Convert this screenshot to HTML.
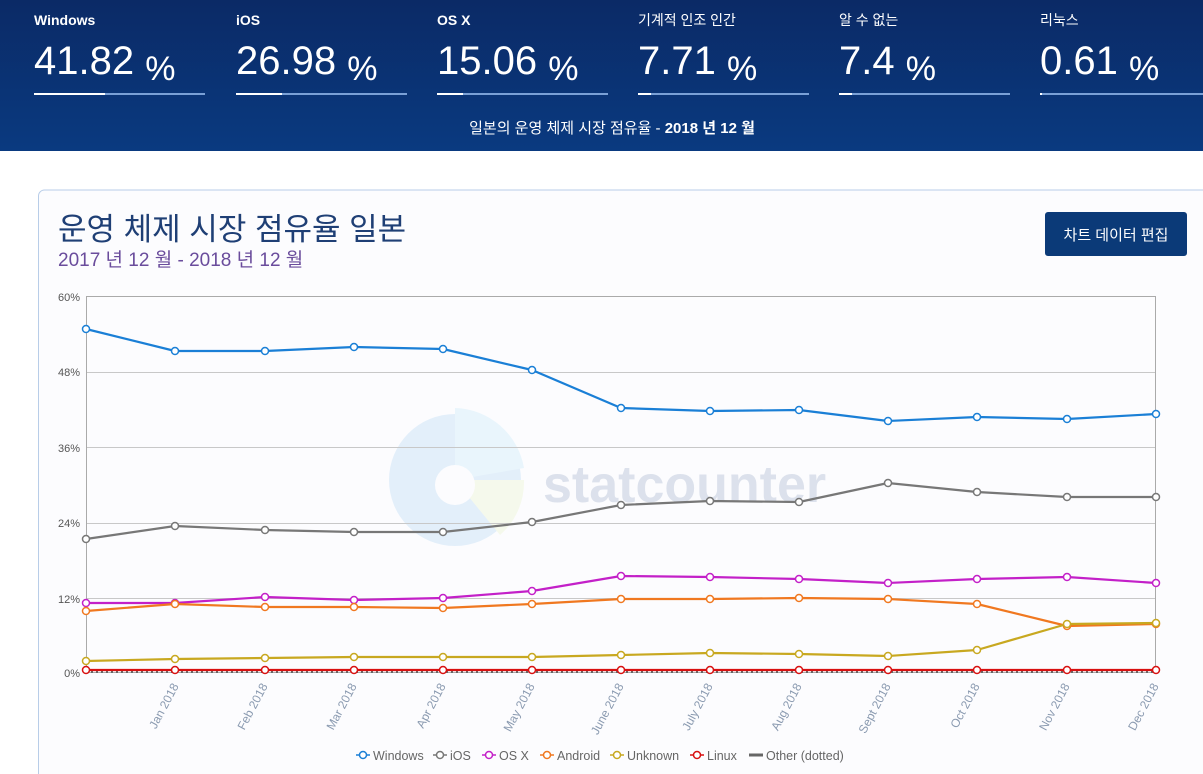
<!DOCTYPE html>
<html><head><meta charset="utf-8"><style>
body{margin:0;width:1203px;height:774px;overflow:hidden;background:#fff;font-family:"Liberation Sans","Noto Sans CJK KR",sans-serif;}
svg{display:block}
</style></head><body>
<svg width="1203" height="774" xmlns="http://www.w3.org/2000/svg" font-family="Liberation Sans, Noto Sans CJK KR, sans-serif">
<defs><linearGradient id="hg" x1="0" y1="0" x2="0" y2="1"><stop offset="0" stop-color="#0b2a66"/><stop offset="1" stop-color="#0a3a80"/></linearGradient></defs>
<rect width="1203" height="151" fill="url(#hg)"/>
<g fill="#fff">
<g font-size="14" font-weight="bold"><text x="34" y="25">Windows</text><text x="236" y="25">iOS</text><text x="437" y="25">OS X</text></g>
<g font-size="14"><text x="638" y="25">기계적 인조 인간</text><text x="839" y="25">알 수 없는</text><text x="1040" y="25">리눅스</text></g>
<g font-size="40"><text x="34" y="74">41.82 <tspan font-size="34" dy="6">%</tspan></text><text x="236" y="74">26.98 <tspan font-size="34" dy="6">%</tspan></text><text x="437" y="74">15.06 <tspan font-size="34" dy="6">%</tspan></text><text x="638" y="74">7.71 <tspan font-size="34" dy="6">%</tspan></text><text x="839" y="74">7.4 <tspan font-size="34" dy="6">%</tspan></text><text x="1040" y="74">0.61 <tspan font-size="34" dy="6">%</tspan></text></g>
</g>
<g fill="#7aa0d6"><rect x="34" y="93" width="171" height="2"/><rect x="236" y="93" width="171" height="2"/><rect x="437" y="93" width="171" height="2"/><rect x="638" y="93" width="171" height="2"/><rect x="839" y="93" width="171" height="2"/><rect x="1040" y="93" width="171" height="2"/></g>
<g fill="#fff"><rect x="34" y="93" width="71" height="2"/><rect x="236" y="93" width="46" height="2"/><rect x="437" y="93" width="26" height="2"/><rect x="638" y="93" width="13" height="2"/><rect x="839" y="93" width="13" height="2"/><rect x="1040" y="93" width="2" height="2"/></g>
<text x="612" y="133" fill="#fff" font-size="15" text-anchor="middle">일본의 운영 체제 시장 점유율 - <tspan font-weight="bold">2018 년 12 월</tspan></text>

<path d="M38.5 774 V196 a6 6 0 0 1 6 -6 H1203 V774 Z" fill="#fcfcfe" stroke="none"/>
<path d="M38.5 774 V196 a6 6 0 0 1 6 -6 H1203" fill="none" stroke="#b8cde8"/>
<text x="58" y="240" fill="#1f3f75" font-size="31">운영 체제 시장 점유율 일본</text>
<text x="58" y="266" fill="#6a4c9c" font-size="19">2017 년 12 월 - 2018 년 12 월</text>
<rect x="1045" y="212" width="142" height="44" rx="3" fill="#0b3a78"/>
<text x="1116" y="240" fill="#fff" font-size="15" text-anchor="middle">차트 데이터 편집</text>

<g opacity="0.22"><circle cx="455" cy="480" r="66" fill="#8ec4f0"/><path d="M455 480 L455 408 A72 72 0 0 1 524 468 Z" fill="#a8e0f8"/><path d="M455 480 L524 480 A70 70 0 0 1 500 535 Z" fill="#e0f0b0"/><circle cx="455" cy="485" r="20" fill="#fff"/></g>
<text x="543" y="502" fill="#d2d9e6" font-size="52" font-weight="bold" opacity="0.75">statcounter</text>

<g stroke="#c8c8c8" stroke-width="1"><line x1="86" y1="372.5" x2="1156" y2="372.5"/><line x1="86" y1="447.5" x2="1156" y2="447.5"/><line x1="86" y1="523.5" x2="1156" y2="523.5"/><line x1="86" y1="598.5" x2="1156" y2="598.5"/></g>
<rect x="86.5" y="296.5" width="1069" height="376" fill="none" stroke="#aaa"/>
<g fill="#555" font-size="11" text-anchor="end"><text x="80" y="301">60%</text><text x="80" y="376">48%</text><text x="80" y="452">36%</text><text x="80" y="527">24%</text><text x="80" y="603">12%</text><text x="80" y="677">0%</text></g>
<g fill="#8a9ab0" font-size="12" text-anchor="end">
<text transform="translate(179,686) rotate(-62)">Jan 2018</text><text transform="translate(268,686) rotate(-62)">Feb 2018</text><text transform="translate(357,686) rotate(-62)">Mar 2018</text><text transform="translate(446,686) rotate(-62)">Apr 2018</text><text transform="translate(535,686) rotate(-62)">May 2018</text><text transform="translate(624,686) rotate(-62)">June 2018</text><text transform="translate(713,686) rotate(-62)">July 2018</text><text transform="translate(802,686) rotate(-62)">Aug 2018</text><text transform="translate(891,686) rotate(-62)">Sept 2018</text><text transform="translate(980,686) rotate(-62)">Oct 2018</text><text transform="translate(1070,686) rotate(-62)">Nov 2018</text><text transform="translate(1159,686) rotate(-62)">Dec 2018</text>
</g>
<line x1="86" y1="672" x2="1156" y2="672" stroke="#666" stroke-width="2" stroke-dasharray="2,3"/>
<g fill="none" stroke-width="2.2" stroke-linejoin="round">
<polyline stroke="#1a7fd6" points="86,329 175,351 265,351 354,347 443,349 532,370 621,408 710,411 799,410 888,421 977,417 1067,419 1156,414"/>
<polyline stroke="#777" points="86,539 175,526 265,530 354,532 443,532 532,522 621,505 710,501 799,502 888,483 977,492 1067,497 1156,497"/>
<polyline stroke="#c320c8" points="86,603 175,603 265,597 354,600 443,598 532,591 621,576 710,577 799,579 888,583 977,579 1067,577 1156,583"/>
<polyline stroke="#f07820" points="86,611 175,604 265,607 354,607 443,608 532,604 621,599 710,599 799,598 888,599 977,604 1067,626 1156,624"/>
<polyline stroke="#c8a820" points="86,661 175,659 265,658 354,657 443,657 532,657 621,655 710,653 799,654 888,656 977,650 1067,624 1156,623"/>
<polyline stroke="#d81010" points="86,670 1156,670"/>
</g>
<g fill="#fff" stroke-width="1.5">
<g stroke="#1a7fd6"><circle cx="86" cy="329" r="3.5"/><circle cx="175" cy="351" r="3.5"/><circle cx="265" cy="351" r="3.5"/><circle cx="354" cy="347" r="3.5"/><circle cx="443" cy="349" r="3.5"/><circle cx="532" cy="370" r="3.5"/><circle cx="621" cy="408" r="3.5"/><circle cx="710" cy="411" r="3.5"/><circle cx="799" cy="410" r="3.5"/><circle cx="888" cy="421" r="3.5"/><circle cx="977" cy="417" r="3.5"/><circle cx="1067" cy="419" r="3.5"/><circle cx="1156" cy="414" r="3.5"/></g>
<g stroke="#777"><circle cx="86" cy="539" r="3.5"/><circle cx="175" cy="526" r="3.5"/><circle cx="265" cy="530" r="3.5"/><circle cx="354" cy="532" r="3.5"/><circle cx="443" cy="532" r="3.5"/><circle cx="532" cy="522" r="3.5"/><circle cx="621" cy="505" r="3.5"/><circle cx="710" cy="501" r="3.5"/><circle cx="799" cy="502" r="3.5"/><circle cx="888" cy="483" r="3.5"/><circle cx="977" cy="492" r="3.5"/><circle cx="1067" cy="497" r="3.5"/><circle cx="1156" cy="497" r="3.5"/></g>
<g stroke="#c320c8"><circle cx="86" cy="603" r="3.5"/><circle cx="175" cy="603" r="3.5"/><circle cx="265" cy="597" r="3.5"/><circle cx="354" cy="600" r="3.5"/><circle cx="443" cy="598" r="3.5"/><circle cx="532" cy="591" r="3.5"/><circle cx="621" cy="576" r="3.5"/><circle cx="710" cy="577" r="3.5"/><circle cx="799" cy="579" r="3.5"/><circle cx="888" cy="583" r="3.5"/><circle cx="977" cy="579" r="3.5"/><circle cx="1067" cy="577" r="3.5"/><circle cx="1156" cy="583" r="3.5"/></g>
<g stroke="#f07820"><circle cx="86" cy="611" r="3.5"/><circle cx="175" cy="604" r="3.5"/><circle cx="265" cy="607" r="3.5"/><circle cx="354" cy="607" r="3.5"/><circle cx="443" cy="608" r="3.5"/><circle cx="532" cy="604" r="3.5"/><circle cx="621" cy="599" r="3.5"/><circle cx="710" cy="599" r="3.5"/><circle cx="799" cy="598" r="3.5"/><circle cx="888" cy="599" r="3.5"/><circle cx="977" cy="604" r="3.5"/><circle cx="1067" cy="626" r="3.5"/><circle cx="1156" cy="624" r="3.5"/></g>
<g stroke="#c8a820"><circle cx="86" cy="661" r="3.5"/><circle cx="175" cy="659" r="3.5"/><circle cx="265" cy="658" r="3.5"/><circle cx="354" cy="657" r="3.5"/><circle cx="443" cy="657" r="3.5"/><circle cx="532" cy="657" r="3.5"/><circle cx="621" cy="655" r="3.5"/><circle cx="710" cy="653" r="3.5"/><circle cx="799" cy="654" r="3.5"/><circle cx="888" cy="656" r="3.5"/><circle cx="977" cy="650" r="3.5"/><circle cx="1067" cy="624" r="3.5"/><circle cx="1156" cy="623" r="3.5"/></g>
<g stroke="#d81010"><circle cx="86" cy="670" r="3.5"/><circle cx="175" cy="670" r="3.5"/><circle cx="265" cy="670" r="3.5"/><circle cx="354" cy="670" r="3.5"/><circle cx="443" cy="670" r="3.5"/><circle cx="532" cy="670" r="3.5"/><circle cx="621" cy="670" r="3.5"/><circle cx="710" cy="670" r="3.5"/><circle cx="799" cy="670" r="3.5"/><circle cx="888" cy="670" r="3.5"/><circle cx="977" cy="670" r="3.5"/><circle cx="1067" cy="670" r="3.5"/><circle cx="1156" cy="670" r="3.5"/></g>
</g>
<g font-size="12.5" fill="#666">
<g stroke-width="1.5" fill="#fff">
<line x1="356" y1="755" x2="370" y2="755" stroke="#1a7fd6"/><circle cx="363" cy="755" r="3.5" stroke="#1a7fd6"/>
<line x1="433" y1="755" x2="447" y2="755" stroke="#777"/><circle cx="440" cy="755" r="3.5" stroke="#777"/>
<line x1="482" y1="755" x2="496" y2="755" stroke="#c320c8"/><circle cx="489" cy="755" r="3.5" stroke="#c320c8"/>
<line x1="540" y1="755" x2="554" y2="755" stroke="#f07820"/><circle cx="547" cy="755" r="3.5" stroke="#f07820"/>
<line x1="610" y1="755" x2="624" y2="755" stroke="#c8a820"/><circle cx="617" cy="755" r="3.5" stroke="#c8a820"/>
<line x1="690" y1="755" x2="704" y2="755" stroke="#d81010"/><circle cx="697" cy="755" r="3.5" stroke="#d81010"/>
<line x1="749" y1="755" x2="763" y2="755" stroke="#666" stroke-width="3"/>
</g>
<text x="373" y="760">Windows</text><text x="450" y="760">iOS</text><text x="499" y="760">OS X</text><text x="557" y="760">Android</text><text x="627" y="760">Unknown</text><text x="707" y="760">Linux</text><text x="766" y="760">Other (dotted)</text>
</g>
</svg>
</body></html>
